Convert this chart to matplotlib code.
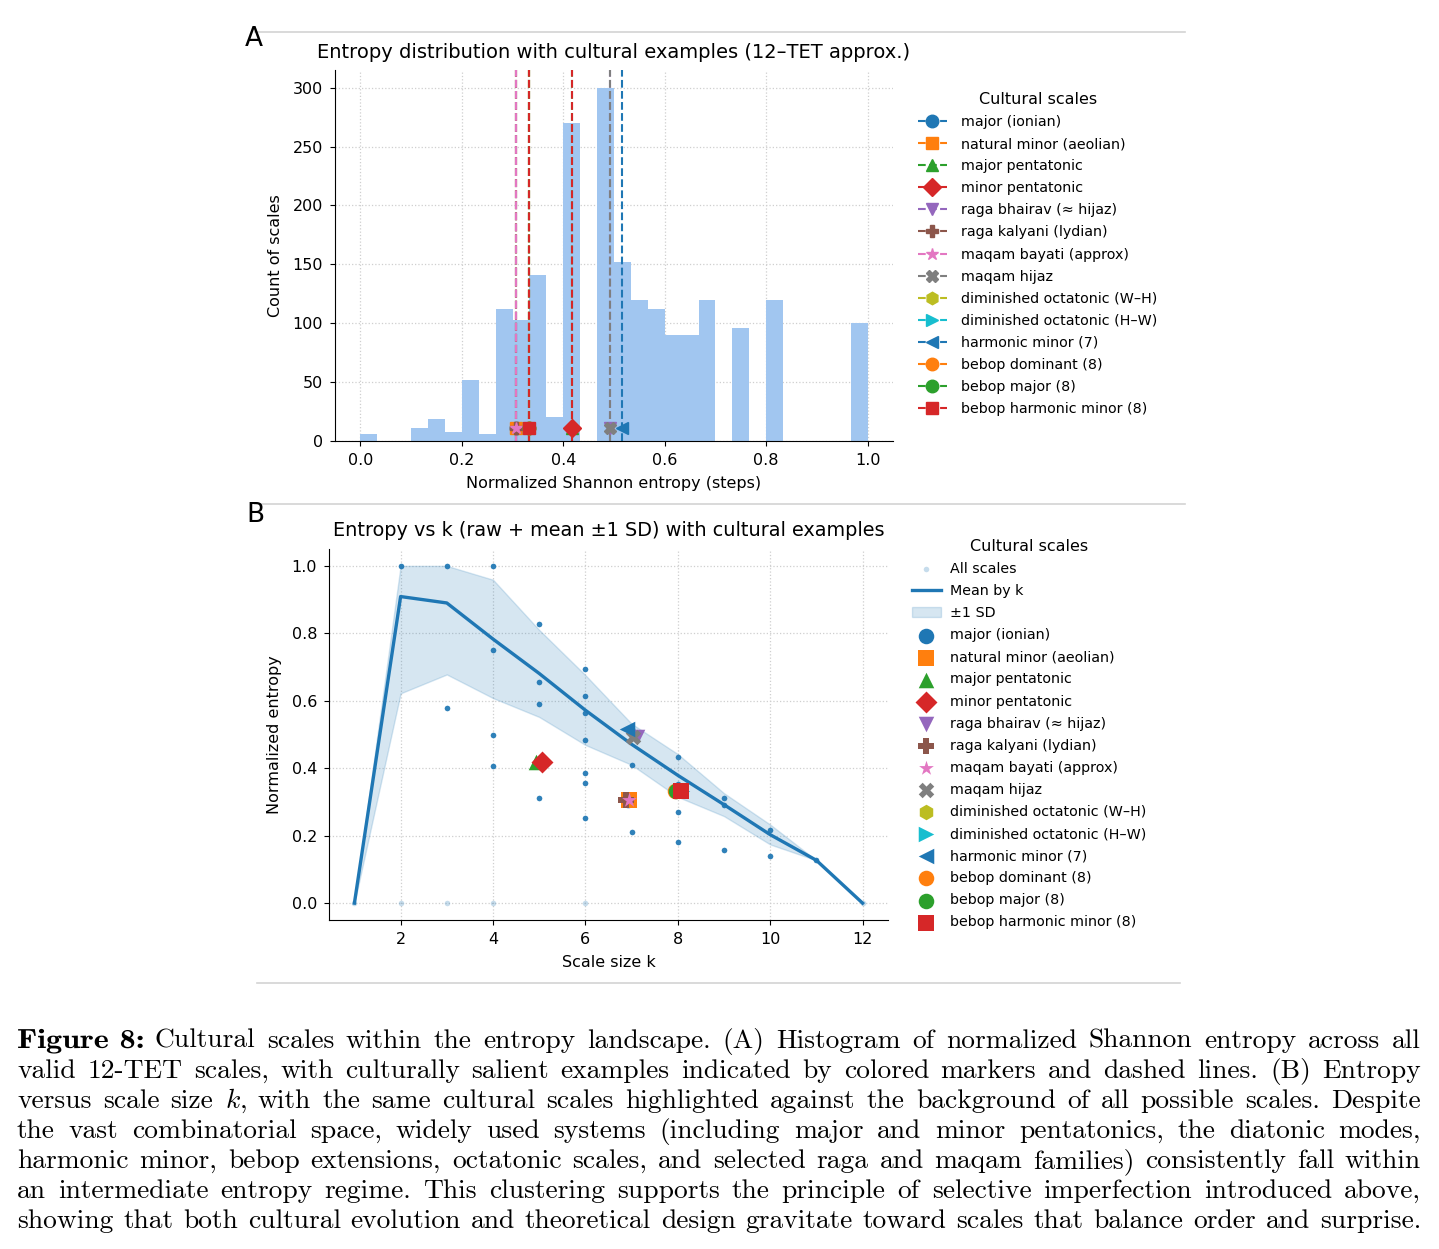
import numpy as np
import matplotlib
matplotlib.use('Agg')
import matplotlib.pyplot as plt
from matplotlib.lines import Line2D
from matplotlib.textpath import TextPath
from matplotlib.patches import PathPatch
from matplotlib.font_manager import FontProperties
from matplotlib.transforms import Affine2D

W, H = 1439, 1249

# --- panel A data: histogram of normalized entropy (30 bins over [0, 1])
bin_edges = np.linspace(0, 1, 31)
bin_counts = [6, 0, 0, 11, 19, 8, 52, 6, 112, 103, 141, 20, 270, 0, 300,
              152, 120, 112, 90, 90, 120, 0, 96, 0, 120, 0, 0, 0, 0, 100]

# --- cultural scales
scale_names = ['major (ionian)', 'natural minor (aeolian)', 'major pentatonic',
               'minor pentatonic', 'raga bhairav (\u2248 hijaz)', 'raga kalyani (lydian)',
               'maqam bayati (approx)', 'maqam hijaz', 'diminished octatonic (W\u2013H)',
               'diminished octatonic (H\u2013W)', 'harmonic minor (7)', 'bebop dominant (8)',
               'bebop major (8)', 'bebop harmonic minor (8)']
scale_colors = ['C0', 'C1', 'C2', 'C3', 'C4', 'C5', 'C6', 'C7', 'C8', 'C9',
                'C0', 'C1', 'C2', 'C3']
scale_markers = ['o', 's', '^', 'D', 'v', 'P', '*', 'X', 'h', '>', '<', 'o', 'o', 's']
scale_entropy = [0.3071, 0.3071, 0.4180, 0.4180, 0.4912, 0.3071, 0.3071, 0.4912,
                 0.3333, 0.3333, 0.5164, 0.3333, 0.3333, 0.3333]
scale_k_jit = [6.93, 6.94, 4.93, 5.05, 7.11, 6.87, 6.95, 7.03, 8.02, 8.10,
               6.91, 7.94, 7.97, 8.06]

# --- panel B data
raw_k = [2, 3, 3, 4, 4, 4, 4, 5, 5, 5, 5, 5, 6, 6, 6, 6, 6, 6, 6,
         7, 7, 7, 7, 7, 8, 8, 8, 8, 8, 9, 9, 9, 10, 10, 11]
raw_h = [1.0, 0.579, 1.0, 0.406, 0.5, 0.75, 1.0, 0.311, 0.418, 0.590, 0.655, 0.827,
         0.252, 0.355, 0.387, 0.484, 0.565, 0.613, 0.693,
         0.211, 0.308, 0.409, 0.491, 0.516, 0.181, 0.270, 0.333, 0.354, 0.433,
         0.159, 0.290, 0.311, 0.141, 0.217, 0.127]
rare_k = [1, 2, 3, 4, 6, 12]
rare_h = [0, 0, 0, 0, 0, 0]

k_vals = list(range(1, 13))
mean_h = [0, 0.909, 0.890, 0.783, 0.681, 0.572, 0.471, 0.379, 0.292, 0.203, 0.127, 0]
sd_lo = [0, 0.622, 0.678, 0.608, 0.552, 0.469, 0.410, 0.315, 0.258, 0.174, 0.127, 0]
sd_hi = [0, 1.0, 1.0, 0.959, 0.810, 0.676, 0.532, 0.442, 0.326, 0.233, 0.127, 0]

caption_lines = [
    "Figure 8: Cultural scales within the entropy landscape. (A) Histogram of normalized Shannon entropy across all",
    "valid 12-TET scales, with culturally salient examples indicated by colored markers and dashed lines. (B) Entropy",
    "versus scale size $k$, with the same cultural scales highlighted against the background of all possible scales. Despite",
    "the vast combinatorial space, widely used systems (including major and minor pentatonics, the diatonic modes,",
    "harmonic minor, bebop extensions, octatonic scales, and selected raga and maqam families) consistently fall within",
    "an intermediate entropy regime. This clustering supports the principle of selective imperfection introduced above,",
    "showing that both cultural evolution and theoretical design gravitate toward scales that balance order and surprise.",
]

plt.rcParams['font.family'] = ['DejaVu Sans']
plt.rcParams['font.size'] = 11.5
plt.rcParams['mathtext.fontset'] = 'cm'

fig = plt.figure(figsize=(W / 100, H / 100), dpi=100)


def px_axes(left, top, right, bottom):
    return fig.add_axes([left / W, 1 - bottom / H, (right - left) / W, (bottom - top) / H])


def style_axes(ax):
    ax.spines['top'].set_visible(False)
    ax.spines['right'].set_visible(False)
    ax.grid(True, linestyle=':', color='#cfcfcf', linewidth=0.9)
    ax.set_axisbelow(True)
    ax.tick_params(labelsize=11.5, pad=5)


leg_kw = dict(title='Cultural scales', loc='upper left', bbox_transform=fig.transFigure,
              frameon=False, fontsize=10.3, title_fontsize=11.5, borderpad=0,
              borderaxespad=0, labelspacing=0.565, handlelength=2.0)

# ---------------- panel A
axA = px_axes(335, 70, 893, 441)
axA.bar(bin_edges[:-1], bin_counts, width=np.diff(bin_edges), align='edge',
        color='#a1c6f0', edgecolor='none', zorder=1)
for i in range(len(scale_names)):
    axA.axvline(scale_entropy[i], color=scale_colors[i], linestyle='--', lw=1.5, zorder=2)
for i in range(len(scale_names)):
    axA.plot([scale_entropy[i]], [11], color=scale_colors[i], marker=scale_markers[i],
             linestyle='--', lw=1.5, markersize=9, label=scale_names[i], zorder=3)
axA.set_xlim(-0.05, 1.05)
axA.set_ylim(0, 315)
axA.set_xticks([0, 0.2, 0.4, 0.6, 0.8, 1.0])
axA.set_yticks(range(0, 301, 50))
style_axes(axA)
axA.set_title('Entropy distribution with cultural examples (12\u2013TET approx.)', fontsize=14, pad=9)
axA.set_xlabel('Normalized Shannon entropy (steps)', labelpad=6)
axA.set_ylabel('Count of scales', labelpad=7)
axA.legend(bbox_to_anchor=(918 / W, 1 - 92 / H), handletextpad=1.0, **leg_kw)

# ---------------- panel B
axB = px_axes(329, 549, 888, 920)
axB.scatter(rare_k + raw_k, rare_h + raw_h, s=16, color='C0', alpha=0.25, lw=0,
            label='All scales', zorder=1)
axB.scatter(raw_k, raw_h, s=16, color='C0', alpha=0.9, lw=0, zorder=1)
axB.plot(k_vals, mean_h, color='C0', lw=2.4, label='Mean by k', zorder=3)
axB.fill_between(k_vals, sd_lo, sd_hi, color='C0', alpha=0.18, label='\u00b11 SD', zorder=2)
for i in range(len(scale_names)):
    axB.scatter([scale_k_jit[i]], [scale_entropy[i]], s=125, color=scale_colors[i],
                marker=scale_markers[i], lw=0, label=scale_names[i], zorder=4)
axB.set_xlim(0.45, 12.55)
axB.set_ylim(-0.05, 1.05)
axB.set_xticks([2, 4, 6, 8, 10, 12])
axB.set_yticks([0, 0.2, 0.4, 0.6, 0.8, 1.0])
style_axes(axB)
axB.set_title('Entropy vs k (raw + mean \u00b11 SD) with cultural examples', fontsize=13.9, pad=9)
axB.set_xlabel('Scale size k', labelpad=6)
axB.set_ylabel('Normalized entropy', labelpad=7)
axB.legend(bbox_to_anchor=(912 / W, 1 - 539 / H), handletextpad=0.65, **leg_kw)

# ---------------- panel letters and separators
fig.text(245 / W, 1 - 46 / H, 'A', fontsize=19, va='baseline')
fig.text(246 / W, 1 - 522 / H, 'B', fontsize=19, va='baseline')
for y, x0, x1 in [(32, 255, 1185), (504, 255, 1185), (983, 257, 1180)]:
    fig.add_artist(Line2D([x0 / W, x1 / W], [1 - y / H, 1 - y / H], transform=fig.transFigure,
                          color='#d3d3d3', lw=1.2))

# ---------------- justified caption (bold extended "Figure 8:" drawn as stretched path)
renderer = fig.canvas.get_renderer()
cap_size = 19.8
bold_prop = FontProperties(family='cmb10')
bold_stretch = 1.17
x_left, x_right = 17, 1421
for li, line in enumerate(caption_lines):
    base_px = 1048 + 30 * li
    words = line.split(' ')
    items = []
    for wi, w in enumerate(words):
        if li == 0 and wi < 2:
            tp = TextPath((0, 0), w, size=cap_size * 100 / 72, prop=bold_prop)
            ext = tp.get_extents()
            items.append(('path', tp, ext.x1 * bold_stretch))
        else:
            t = fig.text(0, 1 - base_px / H, w, fontsize=cap_size, family='cmr10',
                         va='baseline')
            items.append(('text', t, t.get_window_extent(renderer).width))
    gap = (x_right - x_left - sum(it[2] for it in items)) / (len(words) - 1)
    x = x_left
    for kind, obj, wpx in items:
        if kind == 'path':
            tr = Affine2D().scale(bold_stretch, 1).translate(x, H - base_px)
            fig.add_artist(PathPatch(obj, transform=tr, facecolor='black', lw=0))
        else:
            obj.set_x(x / W)
        x += wpx + gap

fig.savefig('out.png', dpi=100)
